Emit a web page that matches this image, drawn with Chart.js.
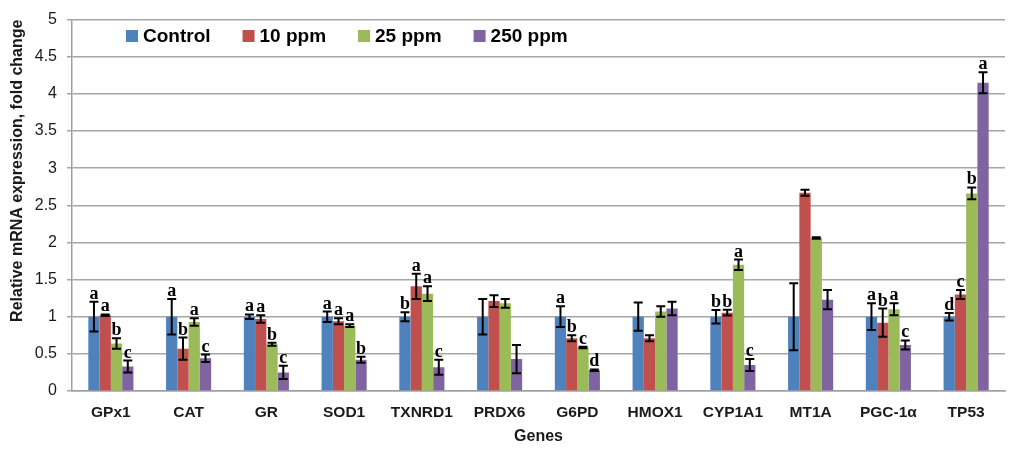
<!DOCTYPE html>
<html>
<head>
<meta charset="utf-8">
<script src="https://cdn.jsdelivr.net/npm/chart.js@4"></script>
<style>
  html, body { margin: 0; padding: 0; background: #fff; }
  #wrap { width: 1017px; height: 450px; }
</style>
</head>
<body>
<div id="wrap"><canvas id="myChart"></canvas></div>
<script>
const genes = ['GPx1', 'CAT', 'GR', 'SOD1', 'TXNRD1', 'PRDX6', 'G6PD', 'HMOX1', 'CYP1A1', 'MT1A', 'PGC-1\u03b1', 'TP53'];
const seriesNames = ['Control', '10 ppm', '25 ppm', '250 ppm'];
const seriesColors = ['#4F81BD', '#C0504D', '#9BBB59', '#8064A2'];

const control = [1.0, 1.0, 1.0, 1.0, 1.0, 1.0, 1.0, 1.0, 1.0, 1.0, 1.0, 1.0];
const ppm10 = [1.02, 0.57, 0.97, 0.94, 1.41, 1.21, 0.71, 0.71, 1.055, 2.67, 0.92, 1.30];
const ppm25 = [0.64, 0.93, 0.63, 0.88, 1.31, 1.18, 0.585, 1.07, 1.70, 2.06, 1.10, 2.66];
const ppm250 = [0.33, 0.44, 0.25, 0.42, 0.32, 0.43, 0.28, 1.11, 0.35, 1.23, 0.62, 4.15];

const errControl = [0.20, 0.24, 0.03, 0.07, 0.06, 0.24, 0.14, 0.19, 0.09, 0.45, 0.18, 0.05];
const err10 = [0.01, 0.15, 0.05, 0.04, 0.17, 0.08, 0.04, 0.04, 0.04, 0.04, 0.19, 0.06];
const err25 = [0.07, 0.05, 0.02, 0.02, 0.10, 0.06, 0.01, 0.07, 0.07, 0.01, 0.08, 0.08];
const err250 = [0.08, 0.05, 0.09, 0.04, 0.10, 0.19, 0.01, 0.09, 0.08, 0.13, 0.06, 0.14];

const letControl = ['a', 'a', 'a', 'a', 'b', '', 'a', '', 'b', '', 'a', 'd'];
const let10 = ['a', 'b', 'a', 'a', 'a', '', 'b', '', 'b', '', 'b', 'c'];
const let25 = ['b', 'a', 'b', 'a', 'a', '', 'c', '', 'a', '', 'a', 'b'];
const let250 = ['c', 'c', 'c', 'b', 'c', '', 'd', '', 'c', '', 'c', 'a'];

const yTicks = [0, 0.5, 1, 1.5, 2, 2.5, 3, 3.5, 4, 4.5, 5];

const values = [control, ppm10, ppm25, ppm250];
const errors = [errControl, err10, err25, err250];
const letters = [letControl, let10, let25, let250];

const errorBars = {
    id: 'errorBars',
    afterDatasetsDraw(chart) {
        const c = chart.ctx;
        const y = chart.scales.y;
        c.save();
        c.strokeStyle = '#000';
        c.lineWidth = 2;
        c.fillStyle = '#000';
        c.font = 'bold 18px "Liberation Serif", serif';
        c.textAlign = 'center';
        c.textBaseline = 'alphabetic';
        chart.data.datasets.forEach(function (ds, di) {
            const meta = chart.getDatasetMeta(di);
            meta.data.forEach(function (bar, i) {
                const v = values[di][i];
                const e = errors[di][i];
                const top = y.getPixelForValue(v + e);
                const bot = y.getPixelForValue(v - e);
                const x = bar.x;
                c.beginPath();
                c.moveTo(x, top); c.lineTo(x, bot);
                c.moveTo(x - 4.5, top); c.lineTo(x + 4.5, top);
                c.moveTo(x - 4.5, bot); c.lineTo(x + 4.5, bot);
                c.stroke();
                if (letters[di][i]) {
                    c.fillText(letters[di][i], x, top - 3);
                }
            });
        });
        c.restore();
    }
};

const topLegend = {
    id: 'topLegend',
    afterDraw(chart) {
        const c = chart.ctx;
        c.save();
        c.font = 'bold 19px "Liberation Sans", Arial, sans-serif';
        c.textBaseline = 'middle';
        c.textAlign = 'left';
        let x = 126;
        const yc = 36;
        chart.data.datasets.forEach(function (ds) {
            c.fillStyle = ds.backgroundColor;
            c.fillRect(x, yc - 6, 12, 12);
            c.fillStyle = '#000';
            c.fillText(ds.label, x + 17, yc + 1);
            x += 17 + c.measureText(ds.label).width + 32;
        });
        c.restore();
    }
};

const ctx = document.getElementById('myChart');
new Chart(ctx, {
    type: 'bar',
    data: {
        labels: genes,
        datasets: seriesNames.map(function (name, i) {
            return {
                label: name,
                data: values[i],
                backgroundColor: seriesColors[i],
                borderWidth: 0
            };
        })
    },
    options: {
        responsive: true,
        maintainAspectRatio: false,
        animation: false,
        layout: {
            padding: { top: 18, right: 12, bottom: 0, left: 0 }
        },
        plugins: {
            legend: { display: false },
            tooltip: { enabled: false }
        },
        datasets: {
            bar: {
                categoryPercentage: 0.58,
                barPercentage: 1.0
            }
        },
        scales: {
            x: {
                grid: { display: false, drawTicks: false },
                border: { display: true, color: '#a0a0a0', width: 1.5 },
                ticks: {
                    color: '#1a1a1a',
                    padding: 12,
                    font: { family: '"Liberation Sans", Arial, sans-serif', size: 15.5, weight: 'bold' }
                },
                title: {
                    display: true,
                    text: 'Genes',
                    color: '#1a1a1a',
                    padding: { top: 4 },
                    font: { family: '"Liberation Sans", Arial, sans-serif', size: 16, weight: 'bold' }
                },
                afterFit(scale) { scale.height = 59; }
            },
            y: {
                min: 0,
                max: 5,
                afterBuildTicks(scale) {
                    scale.ticks = yTicks.map(function (v) { return { value: v }; });
                },
                grid: { color: '#a6a6a6', lineWidth: 1.5, tickLength: 5 },
                border: { display: true, color: '#a0a0a0', width: 1.5 },
                ticks: {
                    color: '#1a1a1a',
                    padding: 10,
                    callback: function (v) { return String(v); },
                    font: { family: '"Liberation Sans", Arial, sans-serif', size: 16 }
                },
                title: {
                    display: true,
                    text: 'Relative mRNA expression, fold change',
                    align: 'end',
                    color: '#1a1a1a',
                    padding: { top: 8, bottom: 0 },
                    font: { family: '"Liberation Sans", Arial, sans-serif', size: 16, weight: 'bold' }
                },
                afterFit(scale) { scale.width = 72; }
            }
        }
    },
    plugins: [errorBars, topLegend]
});
</script>
</body>
</html>
